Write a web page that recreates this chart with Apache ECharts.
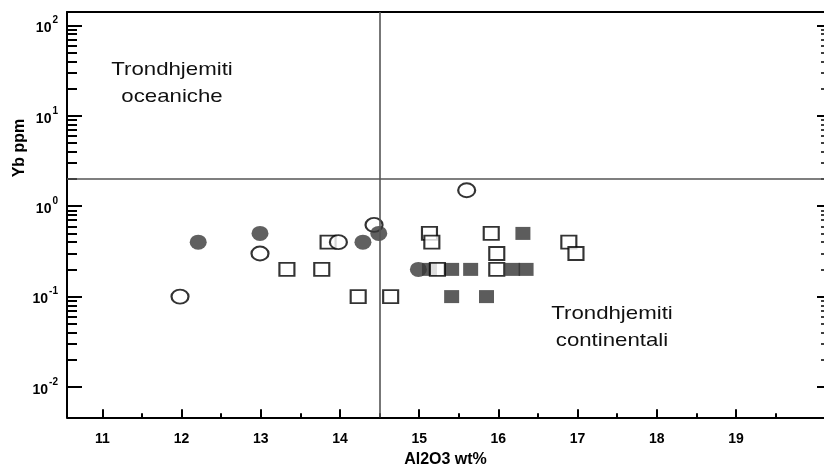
<!DOCTYPE html>
<html>
<head>
<meta charset="utf-8">
<script src="https://cdn.jsdelivr.net/npm/echarts@6/dist/echarts.min.js"></script>
<style>
  html, body { margin: 0; padding: 0; background: #fff; }
  #chart { width: 824px; height: 466px; }
</style>
</head>
<body>
<div id="chart"></div>
<script>
// Al2O3 (wt%) and Yb (ppm) for each sample group
const openCircleAl = [11.98, 12.99, 13.98, 14.43, 15.60];
const openCircleYb = [0.1, 0.3, 0.4, 0.62, 1.5];

const filledCircleAl = [12.21, 12.99, 14.29, 14.49, 14.99];
const filledCircleYb = [0.4, 0.5, 0.4, 0.5, 0.2];

const openSquareAl = [13.33, 13.77, 13.85, 14.23, 14.64, 15.13, 15.16, 15.23, 15.91, 15.98, 15.98, 16.89, 16.98];
const openSquareYb = [0.2, 0.2, 0.4, 0.1, 0.1, 0.5, 0.4, 0.2, 0.5, 0.3, 0.2, 0.4, 0.3];

const filledSquareAl = [15.13, 15.41, 15.65, 16.18, 16.35, 16.31, 15.41, 15.85];
const filledSquareYb = [0.2, 0.2, 0.2, 0.2, 0.2, 0.5, 0.1, 0.1];

// field boundaries
const boundaryAl = 14.5;
const boundaryYb = 2;

// axis ticks
const alTicks = [11, 12, 13, 14, 15, 16, 17, 18, 19];
const alHalfTicks = [11.5, 12.5, 13.5, 14.5, 15.5, 16.5, 17.5, 18.5, 19.5];
const ybDecades = [0.01, 0.1, 1, 10, 100];

const alMin = 10.553, alMax = 20.112;
const ybMin = Math.pow(10, -2.335), ybMax = Math.pow(10, 2.148);

const ybMinor = [];
ybDecades.slice(0, -1).forEach(d => {
  for (let k = 2; k <= 9; k++) ybMinor.push(+(d * k).toPrecision(3));
});

const FONT = 'Liberation Sans, Arial, sans-serif';
const pairs = (xs, ys) => xs.map((x, i) => [x, ys[i]]);

const baseY = {
  type: 'log', logBase: 10, min: ybMin, max: ybMax,
  splitLine: { show: false }, axisLine: { show: false },
  axisLabel: { show: false }
};

const option = {
  backgroundColor: '#fff',
  animation: false,
  grid: { left: 67, right: 0, top: 12, bottom: 48.7, outerBoundsMode: 'none', containLabel: false },
  xAxis: [
    {
      type: 'value', position: 'bottom', min: alMin, max: alMax,
      name: 'Al2O3 wt%', nameLocation: 'middle', nameGap: 34,
      nameTextStyle: { fontFamily: FONT, fontWeight: 'bold', fontSize: 16, color: '#000' },
      axisLine: { show: true, onZero: false, lineStyle: { color: '#000', width: 2 } },
      axisTick: { show: true, inside: true, length: 8, customValues: alTicks, lineStyle: { color: '#000', width: 2 } },
      axisLabel: { show: true, customValues: alTicks, margin: 15, fontFamily: FONT, fontWeight: 'bold', fontSize: 14, color: '#000' },
      splitLine: { show: false }
    },
    {
      type: 'value', position: 'bottom', min: alMin, max: alMax,
      axisLine: { show: false },
      axisTick: { show: true, inside: true, length: 4, customValues: alHalfTicks, lineStyle: { color: '#000', width: 2 } },
      axisLabel: { show: false }, splitLine: { show: false }
    },
    {
      type: 'value', position: 'top', min: alMin, max: alMax,
      axisLine: { show: true, onZero: false, lineStyle: { color: '#000', width: 2 } },
      axisTick: { show: false }, axisLabel: { show: false }, splitLine: { show: false }
    }
  ],
  yAxis: [
    Object.assign({}, baseY, {
      position: 'left',
      axisLine: { show: true, onZero: false, lineStyle: { color: '#000', width: 2 } },
      axisTick: { show: true, inside: true, length: 15, customValues: ybDecades, lineStyle: { color: '#000', width: 2 } },
      axisLabel: {
        show: true, customValues: ybDecades, margin: 9,
        formatter: v => '{b|10}{s|' + Math.round(Math.log10(v)) + '}',
        rich: {
          b: { fontFamily: FONT, fontWeight: 'bold', fontSize: 14, color: '#000', padding: [6, 0, 0, 0] },
          s: { fontFamily: FONT, fontWeight: 'bold', fontSize: 10, color: '#000', verticalAlign: 'top', padding: [0, 0, 0, 1] }
        }
      }
    }),
    Object.assign({}, baseY, {
      position: 'left',
      axisTick: { show: true, inside: true, length: 10, customValues: ybMinor, lineStyle: { color: '#000', width: 2 } }
    }),
    Object.assign({}, baseY, {
      position: 'right',
      axisTick: { show: true, inside: true, length: 7, customValues: ybDecades, lineStyle: { color: '#000', width: 2 } }
    }),
    Object.assign({}, baseY, {
      position: 'right',
      axisTick: { show: true, inside: true, length: 3, customValues: ybMinor, lineStyle: { color: '#000', width: 1.5 } }
    })
  ],
  graphic: [
    {
      type: 'text', x: 20, y: 148, rotation: Math.PI / 2,
      style: { text: 'Yb ppm', font: 'bold 16px ' + FONT, fill: '#000', textAlign: 'center', textVerticalAlign: 'middle' }
    },
    {
      type: 'text', x: 172, y: 83, scaleX: 1.17,
      style: { text: 'Trondhjemiti\noceaniche', font: '19px ' + FONT, lineHeight: 27, fill: '#111', textAlign: 'center', textVerticalAlign: 'middle' }
    },
    {
      type: 'text', x: 612, y: 327, scaleX: 1.17,
      style: { text: 'Trondhjemiti\ncontinentali', font: '19px ' + FONT, lineHeight: 27, fill: '#111', textAlign: 'center', textVerticalAlign: 'middle' }
    }
  ],
  series: [
    {
      name: 'filled squares', type: 'scatter', z: 2,
      symbol: 'rect', symbolSize: [15, 13],
      itemStyle: { color: '#333', borderWidth: 0 },
      data: pairs(filledSquareAl, filledSquareYb)
    },
    {
      name: 'open squares', type: 'scatter', z: 3,
      symbol: 'rect', symbolSize: [15, 13],
      itemStyle: { color: '#fff', borderColor: '#000', borderWidth: 2 },
      data: pairs(openSquareAl, openSquareYb)
    },
    {
      name: 'open circles', type: 'scatter', z: 4,
      symbol: 'circle', symbolSize: [17, 14],
      itemStyle: { color: '#fff', borderColor: '#000', borderWidth: 2 },
      data: pairs(openCircleAl, openCircleYb)
    },
    {
      name: 'filled circles', type: 'scatter', z: 5,
      symbol: 'circle', symbolSize: [17, 15],
      itemStyle: { color: '#383838', borderWidth: 0 },
      data: pairs(filledCircleAl, filledCircleYb),
      markLine: {
        silent: true, symbol: 'none', z: 6,
        label: { show: false },
        lineStyle: { color: '#555', width: 1.6, type: 'solid' },
        data: [{ xAxis: boundaryAl }, { yAxis: boundaryYb }]
      }
    }
  ]
};

echarts.init(document.getElementById('chart'), null, { renderer: 'canvas' }).setOption(option);
</script>
</body>
</html>
